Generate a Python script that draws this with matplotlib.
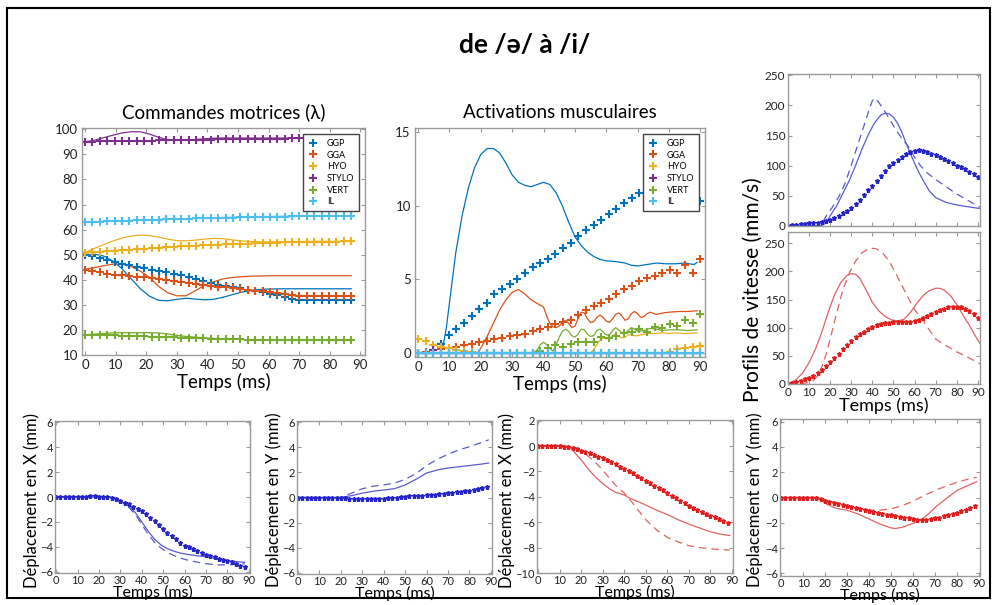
"""
de /ə/ à /i/ : commandes, activations, vitesses et déplacements
"""

import numpy as np
import matplotlib.pyplot as plt
from matplotlib.patches import Rectangle

plt.rcParams['font.family'] = ['Lato', 'DejaVu Sans']

# Muscles et couleurs
muscles = ["GGP", "GGA", "HYO", "STYLO", "VERT", "IL"]
couleurs = ["#0072BD", "#D95319", "#EDB120", "#7E2F8E", "#77AC30", "#4DBEEE"]

# ---------- Commandes motrices (lambda) ----------
t_cmd = np.linspace(0, 87, 37)
cmd_ggp = [50, 49.5, 48.8, 47.8, 46.9, 46.3, 45.8, 45.2, 44.6, 44.0, 43.4, 42.9, 42.3, 41.7, 41.0, 40.2,
           39.4, 38.6, 37.9, 37.4, 37.0, 36.6, 36.1, 35.6, 35.0, 34.4, 33.8, 33.1, 32.5, 32.0, 32.0, 32.0,
           32.0, 32.0, 32.0, 32.0, 32.0]
cmd_gga = [44.0, 43.4, 42.9, 42.4, 42.0, 41.7, 41.4, 41.2, 41.0, 40.6, 40.2, 39.8, 39.4, 39.0, 38.6, 38.2,
           37.9, 37.6, 37.3, 37.0, 36.7, 36.4, 36.0, 35.7, 35.4, 35.1, 34.7, 34.3, 33.9, 33.6, 33.5, 33.5,
           33.5, 33.5, 33.5, 33.5, 33.5]
cmd_hyo = [50.8, 51.0, 51.2, 51.4, 51.6, 51.8, 52.0, 52.2, 52.4, 52.6, 52.8, 53.0, 53.2, 53.3, 53.5, 53.6,
           53.7, 53.9, 54.0, 54.1, 54.2, 54.3, 54.4, 54.5, 54.6, 54.7, 54.8, 54.9, 55.0, 55.0, 55.1, 55.1,
           55.2, 55.2, 55.2, 55.3, 55.3]
cmd_stylo = [95.0, 95.1, 95.2, 95.2, 95.3, 95.3, 95.4, 95.4, 95.5, 95.5, 95.6, 95.6, 95.7, 95.7, 95.8, 95.8,
             95.9, 95.9, 96.0, 96.0, 96.1, 96.1, 96.2, 96.2, 96.2, 96.3, 96.3, 96.3, 96.4, 96.4, 96.4, 96.5,
             96.5, 96.5, 96.5, 96.5, 96.5]
cmd_vert = [18.0, 18.0, 17.9, 17.9, 17.8, 17.7, 17.6, 17.5, 17.4, 17.3, 17.2, 17.1, 17.0, 16.9, 16.8, 16.7,
            16.6, 16.5, 16.4, 16.3, 16.2, 16.2, 16.1, 16.1, 16.0, 16.0, 16.0, 15.9, 15.9, 15.9, 15.9, 15.9,
            15.8, 15.8, 15.8, 15.8, 15.8]
cmd_il = [63.0, 63.1, 63.2, 63.3, 63.4, 63.5, 63.6, 63.7, 63.8, 63.9, 64.0, 64.1, 64.2, 64.3, 64.4, 64.5,
          64.6, 64.6, 64.7, 64.8, 64.8, 64.9, 65.0, 65.0, 65.1, 65.1, 65.2, 65.2, 65.3, 65.3, 65.3, 65.4,
          65.4, 65.4, 65.5, 65.5, 65.5]

# courbes continues (commandes)
t_cmd_l = [0, 3, 6, 9, 12, 15, 18, 21, 24, 27, 30, 33, 36, 39, 42, 45, 48, 51, 54, 57, 60, 65, 70, 75, 80, 87]
cmdl_ggp = [49.8, 50.2, 49.5, 47.5, 44.5, 40.5, 36.5, 33.5, 31.8, 31.6, 32.2, 32.6, 32.3, 32.0, 32.2, 33.0,
            34.0, 35.0, 35.7, 36.1, 36.3, 36.4, 36.4, 36.4, 36.4, 36.4]
cmdl_gga = [44.2, 44.8, 45.6, 46.2, 46.3, 45.3, 43.5, 41.0, 37.4, 34.8, 33.6, 33.6, 35.6, 37.8, 39.2, 40.3,
            40.9, 41.2, 41.4, 41.5, 41.6, 41.6, 41.6, 41.6, 41.6, 41.6]
cmdl_hyo = [50.8, 52.5, 54.0, 55.4, 56.6, 57.4, 57.8, 57.6, 57.0, 56.2, 55.6, 55.5, 55.8, 56.2, 56.5, 56.4,
            55.9, 55.5, 55.2, 55.1, 55.1, 55.2, 55.2, 55.3, 55.3, 55.3]
cmdl_stylo = [95.0, 95.6, 96.6, 97.6, 98.5, 99.0, 99.0, 98.1, 96.8, 95.8, 95.6, 95.7, 95.9, 96.2, 96.4, 96.5,
              96.5, 96.5, 96.5, 96.5, 96.5, 96.5, 96.5, 96.5, 96.5, 96.5]
cmdl_vert = [18.0, 18.3, 18.6, 18.8, 18.9, 18.9, 18.9, 18.9, 18.8, 18.4, 17.8, 17.4, 17.1, 16.8, 16.6, 16.4,
             16.3, 16.2, 16.1, 16.1, 16.0, 16.0, 15.9, 15.9, 15.8, 15.8]
cmdl_il = [63.0, 63.1, 63.3, 63.4, 63.5, 63.7, 63.8, 63.9, 64.0, 64.1, 64.2, 64.3, 64.5, 64.6, 64.7, 64.8,
           64.9, 65.0, 65.0, 65.1, 65.2, 65.3, 65.4, 65.4, 65.5, 65.5]

# ---------- Activations musculaires ----------
t_act = np.linspace(0, 90, 38)
act_ggp = [0, 0, 0, 0.6, 1.2, 1.6, 2.0, 2.5, 3.0, 3.4, 4.0, 4.3, 4.7, 5.0, 5.4, 5.8, 6.1, 6.4, 6.75, 7.1,
           7.5, 7.95, 8.35, 8.7, 9.05, 9.45, 9.8, 10.2, 10.55, 10.85, 11.1, 11.3, 11.4, 11.3, 11.1, 10.9,
           10.6, 10.3]
act_gga = [0, 0.05, 0.15, 0.25, 0.3, 0.4, 0.5, 0.6, 0.7, 0.8, 0.9, 1.0, 1.1, 1.2, 1.3, 1.45, 1.6, 1.75,
           1.95, 2.1, 2.2, 2.55, 2.9, 3.15, 3.4, 3.65, 4.0, 4.3, 4.55, 4.9, 5.05, 5.25, 5.4, 5.6, 5.45, 5.95,
           5.45, 6.35]
act_hyo = [0.95, 0.8, 0.55, 0.4, 0.3, 0.2, 0.1, 0.05, 0, 0, 0, 0, 0, 0, 0, 0, 0, 0, 0, 0, 0, 0, 0, 0, 0,
           0, 0, 0, 0, 0, 0, 0, 0, 0.05, 0.25, 0.3, 0.35, 0.45]
act_stylo = [0, 0, 0.15, 0, 0, 0, 0, 0, 0, 0, 0, 0, 0, 0, 0, 0, 0, 0, 0, 0, 0, 0, 0, 0, 0, 0, 0, 0, 0, 0,
             0, 0, 0, 0, 0, 0, 0, 0]
act_vert = [0, 0, 0, 0, 0, 0, 0, 0, 0, 0, 0, 0, 0, 0, 0, 0, 0.1, 0.3, 0.5, 0.35, 0.6, 0.7, 0.7, 0.75,
            1.05, 1.0, 1.1, 1.35, 1.4, 1.6, 1.4, 1.75, 1.65, 1.95, 1.8, 2.2, 2.0, 2.6]
act_il = [0] * 38

# courbes continues (activations)
tl_ggp = [0, 7, 8, 9, 10, 12, 14, 16, 18, 20, 22, 24, 26, 28, 30, 32, 34, 36, 38, 40, 42, 44, 46, 48, 50,
          52, 54, 56, 58, 60, 63, 66, 68, 70, 73, 76, 79, 82, 85, 88, 89]
actl_ggp = [0, 0, 0.5, 1.7, 3.4, 6.8, 9.3, 11.2, 12.6, 13.5, 13.9, 13.9, 13.6, 12.9, 12.1, 11.6, 11.4, 11.3,
            11.45, 11.6, 11.45, 10.9, 10.0, 8.9, 7.9, 7.3, 6.85, 6.55, 6.35, 6.25, 6.2, 6.1, 5.95, 5.9, 6.0,
            6.1, 6.05, 6.05, 6.1, 6.0, 6.15]
tl_gga = [0, 19, 20, 22, 24, 26, 28, 30, 32, 34, 36, 38, 40, 41, 42, 43, 44, 45, 46, 47, 48, 49, 50, 51,
          52, 53, 54, 55, 56, 57, 58, 59, 60, 61, 62, 63, 64, 65, 66, 67, 68, 69, 70, 71, 72, 73, 74, 76, 78,
          80, 83, 86, 89]
actl_gga = [0, 0, 0.3, 1.1, 2.0, 2.9, 3.6, 4.1, 4.3, 4.0, 3.6, 3.35, 3.1, 2.5, 2.0, 1.75, 1.7, 1.8, 2.05,
            2.2, 2.0, 1.7, 1.8, 2.3, 2.75, 2.7, 2.3, 2.05, 2.1, 2.4, 2.55, 2.4, 2.15, 2.05, 2.3, 2.6, 2.7,
            2.5, 2.2, 2.3, 2.65, 2.8, 2.65, 2.4, 2.45, 2.65, 2.75, 2.6, 2.7, 2.75, 2.8, 2.8, 2.85]
tl_hyo = [0, 55, 56, 57, 58, 59, 60, 61, 62, 63, 64, 65, 66, 67, 68, 69, 70, 72, 74, 76, 78, 80, 82, 85, 89]
actl_hyo = [0, 0, 0.2, 0.55, 0.85, 1.0, 0.95, 0.95, 1.15, 1.25, 1.1, 1.0, 1.05, 1.2, 1.25, 1.15, 1.15,
            1.25, 1.3, 1.3, 1.35, 1.3, 1.35, 1.3, 1.35]
tl_vert = [0, 37, 38, 39, 40, 41, 42, 43, 44, 45, 46, 47, 48, 49, 50, 51, 52, 53, 54, 55, 56, 57, 58, 59,
           60, 61, 62, 63, 64, 65, 66, 67, 68, 69, 70, 72, 74, 76, 78, 80, 83, 86, 89]
actl_vert = [0, 0, 0.2, 0.55, 0.7, 0.55, 0.3, 0.1, 0.5, 1.05, 1.45, 1.6, 1.45, 1.15, 1.05, 1.25, 1.6,
             1.55, 1.25, 1.1, 1.15, 1.5, 1.6, 1.4, 1.2, 1.2, 1.5, 1.7, 1.55, 1.35, 1.3, 1.5, 1.7, 1.6, 1.45,
             1.5, 1.65, 1.6, 1.5, 1.55, 1.55, 1.5, 1.55]
tl_flat = [0, 89]
actl_stylo = [0, 0]
actl_il = [0, 0]

# ---------- Profils de vitesse ----------
t_vit = np.arange(0, 91, 2)
vit_bleu_pts = [0.5, 1.2, 2.0, 3.0, 3.8, 4.5, 5.2, 5.8, 6.6, 7.6, 10, 13, 16, 21, 25, 30, 36, 43, 52, 60,
                67, 74, 83, 91, 99, 105, 110, 115, 119, 123, 125, 126, 125, 123, 120, 117, 114, 110.5, 107,
                104, 100, 97, 94, 90, 86, 82]
tb_sol = [0, 16, 18, 20, 23, 26, 29, 32, 35, 38, 41, 44, 46, 48, 50, 52, 54, 56, 58, 60, 62, 64, 67, 70, 75,
          80, 85, 91]
vit_bleu_sol = [0.5, 0.5, 5, 17, 33, 54, 75, 100, 127, 151, 171, 184, 187, 186, 180, 170, 155, 137, 120, 104,
                89, 76, 58, 47, 39, 35, 32, 29]
tb_tir = [0, 15, 16, 18, 21, 24, 27, 30, 33, 36, 38, 40, 41, 43, 45, 48, 51, 54, 57, 60, 63, 66, 70, 75, 80,
          85, 91]
vit_bleu_tir = [0.5, 0.5, 3, 16, 31, 48, 70, 101, 134, 166, 188, 208, 212, 205, 195, 178, 160, 145, 132, 114,
                99, 88, 77, 65, 53, 43, 31]

vit_rouge_pts = [0, 2, 4, 6, 8, 11, 14, 19, 25, 32, 39, 47, 54, 62, 69, 76, 83, 88, 93, 97, 101, 104, 106,
                 108, 109, 110, 110, 110, 110, 111, 112, 114, 117, 120, 124, 128, 131, 134, 136, 137, 137,
                 136, 133, 129, 124, 118]
tr_sol = [0, 4, 7, 10, 13, 16, 19, 22, 25, 28, 30, 32, 34, 37, 40, 43, 46, 49, 52, 55, 58, 61, 64, 67, 70,
          72, 74, 77, 80, 83, 86, 89, 91]
vit_rouge_sol = [0, 8, 20, 38, 62, 92, 127, 158, 180, 193, 196, 195, 188, 167, 145, 130, 120, 114, 112, 115,
                 127, 143, 157, 166, 170, 170, 167, 157, 141, 122, 104, 84, 72]
tr_tir = [0, 7, 10, 12, 14, 16, 18, 20, 23, 26, 29, 32, 35, 38, 40, 42, 45, 48, 51, 54, 57, 60, 64, 67, 70,
          75, 80, 85, 91]
vit_rouge_tir = [0, 1, 3, 6, 14, 30, 52, 80, 125, 167, 197, 218, 233, 240, 241, 240, 232, 218, 197, 175, 153,
                 132, 113, 96, 80, 68, 57, 48, 36]

# ---------- Déplacements ----------
t_dep = np.arange(0, 90, 2)
dx_bleu_pts = [0, 0, 0, 0, 0, 0, 0, 0.03, 0.05, 0.05, 0.03, 0, 0, -0.05, -0.15, -0.3, -0.45, -0.6, -0.8,
               -0.95, -1.15, -1.4, -1.65, -1.95, -2.25, -2.55, -2.85, -3.15, -3.4, -3.7, -3.9, -4.05, -4.2,
               -4.35, -4.5, -4.65, -4.75, -4.85, -4.95, -5.05, -5.15, -5.25, -5.35, -5.5, -5.65]
t_dep_l = [0, 25, 28, 31, 34, 37, 40, 43, 46, 49, 52, 55, 58, 61, 65, 70, 75, 80, 85, 88]
dx_bleu_sol = [0, 0, -0.15, -0.4, -0.75, -1.25, -2.0, -2.75, -3.4, -3.85, -4.15, -4.35, -4.5, -4.6, -4.7,
               -4.8, -4.95, -5.1, -5.2, -5.25]
dx_bleu_tir = [0, 0, -0.15, -0.45, -0.85, -1.4, -2.2, -3.0, -3.65, -4.1, -4.45, -4.7, -4.9, -5.05, -5.2,
               -5.35, -5.45, -5.45, -5.4, -5.35]

dy_bleu_pts = [0, 0, 0, 0, 0, 0, 0, 0, 0, 0, -0.05, -0.05, -0.1, -0.15, -0.15, -0.15, -0.15, -0.12, -0.1,
               -0.1, -0.08, -0.05, -0.03, 0, 0.02, 0.05, 0.08, 0.1, 0.12, 0.15, 0.18, 0.2, 0.22, 0.25, 0.28,
               0.32, 0.36, 0.4, 0.45, 0.5, 0.55, 0.62, 0.7, 0.78, 0.85]
t_dy_l = [0, 20, 25, 30, 35, 40, 45, 50, 55, 60, 65, 70, 75, 80, 85, 89]
dy_bleu_sol = [0, 0, 0.15, 0.35, 0.5, 0.6, 0.7, 1.0, 1.45, 1.95, 2.2, 2.35, 2.45, 2.55, 2.65, 2.75]
dy_bleu_tir = [0, 0, 0.35, 0.7, 0.9, 1.0, 1.15, 1.45, 1.9, 2.55, 3.05, 3.45, 3.8, 4.05, 4.35, 4.6]

dx_rouge_pts = [0, 0, 0, 0, 0, 0, -0.05, -0.1, -0.18, -0.27, -0.36, -0.46, -0.57, -0.7, -0.83, -0.97,
                -1.12, -1.28, -1.45, -1.62, -1.8, -1.98, -2.15, -2.33, -2.52, -2.72, -2.92, -3.12, -3.3, -3.5,
                -3.7, -3.9, -4.1, -4.3, -4.5, -4.7, -4.85, -5.0, -5.17, -5.33, -5.5, -5.6, -5.75, -5.9, -6.1]
t_dxr_l = [0, 12, 15, 18, 21, 24, 27, 30, 33, 36, 40, 43, 46, 50, 55, 60, 65, 70, 75, 80, 85, 89]
dx_rouge_sol = [0, 0, -0.15, -0.7, -1.3, -1.95, -2.5, -2.95, -3.35, -3.65, -3.85, -4.15, -4.35, -4.65, -5.05,
                -5.4, -5.8, -6.15, -6.45, -6.75, -6.95, -7.05]
dx_rouge_tir = [0, 0, -0.05, -0.2, -0.5, -0.9, -1.35, -1.9, -2.5, -3.1, -3.7, -4.3, -4.95, -5.8, -6.6,
                -7.2, -7.55, -7.85, -8.0, -8.1, -8.15, -8.2]

dy_rouge_pts = [0, 0, 0, 0, 0, 0, 0, 0, -0.05, -0.15, -0.25, -0.35, -0.42, -0.5, -0.58, -0.65, -0.72, -0.8,
                -0.88, -0.96, -1.04, -1.12, -1.2, -1.28, -1.35, -1.42, -1.5, -1.55, -1.6, -1.65, -1.7, -1.75,
                -1.75, -1.75, -1.7, -1.65, -1.58, -1.5, -1.42, -1.33, -1.22, -1.1, -0.95, -0.8, -0.65]
t_dyr_sol = [0, 15, 18, 21, 25, 30, 35, 40, 45, 50, 52, 55, 60, 64, 67, 70, 75, 80, 85, 89]
dy_rouge_sol = [0, 0, -0.2, -0.55, -0.85, -1.0, -1.3, -1.7, -2.1, -2.4, -2.45, -2.35, -2.05, -1.75, -1.3,
                -0.8, -0.1, 0.55, 0.95, 1.25]
t_dyr_tir = [0, 15, 20, 25, 30, 35, 40, 45, 50, 55, 60, 65, 70, 75, 80, 85, 89]
dy_rouge_tir = [0, 0, -0.15, -0.45, -0.7, -0.9, -1.0, -1.0, -0.9, -0.65, -0.3, 0.15, 0.55, 0.9, 1.2, 1.45,
                1.6]

# ---------- Mise en page ----------
W, H = 995, 605
fig = plt.figure(figsize=(W / 100, H / 100), dpi=100)


def boite(g, h, d, b):
    return [g / W, 1 - b / H, (d - g) / W, (b - h) / H]


def style(ax, xlim, ylim, xt, yt, fs=9, pad=3):
    ax.set_xlim(xlim)
    ax.set_ylim(ylim)
    ax.set_xticks(xt)
    ax.set_yticks(yt)
    for s in ax.spines.values():
        s.set_color('#9a9a9a')
        s.set_linewidth(1)
    ax.tick_params(direction='in', length=3, width=0.8, color='#9a9a9a', top=True, right=True,
                   labelsize=fs, labelcolor='#222222', pad=pad)


bleu_pt, bleu_l = '#2424c8', '#5a5ad2'
rouge_pt, rouge_l = '#e01e1e', '#e06262'
leg_opts = dict(loc='upper right', fontsize=6.5, fancybox=False, edgecolor='#444444', framealpha=1,
                handlelength=1.2, handletextpad=0.9, labelspacing=0.3, borderpad=0.5, borderaxespad=0.7)

# Commandes motrices
ax = fig.add_axes(boite(82, 128, 365, 355))
series_l = [cmdl_ggp, cmdl_gga, cmdl_hyo, cmdl_stylo, cmdl_vert, cmdl_il]
series_p = [cmd_ggp, cmd_gga, cmd_hyo, cmd_stylo, cmd_vert, cmd_il]
for v, c in zip(series_l, couleurs):
    ax.plot(t_cmd_l, v, color=c, lw=0.9)
for v, c, m in zip(series_p, couleurs, muscles):
    ax.plot(t_cmd, v, ls='none', marker='+', ms=5.5, mew=1.5, color=c, label=m)
style(ax, (-1, 91.5), (10, 100.5), range(0, 91, 10), range(10, 101, 10), 9.5)
ax.set_title("Commandes motrices (λ)", fontsize=13.5, pad=7)
ax.set_xlabel("Temps (ms)", fontsize=13.5, labelpad=1)
ax.legend(**leg_opts)

# Activations musculaires
ax = fig.add_axes(boite(415, 128, 705, 357))
t_lines = [tl_ggp, tl_gga, tl_hyo, tl_flat, tl_vert, tl_flat]
series_l = [actl_ggp, actl_gga, actl_hyo, actl_stylo, actl_vert, actl_il]
series_p = [act_ggp, act_gga, act_hyo, act_stylo, act_vert, act_il]
for tt, v, c in zip(t_lines, series_l, couleurs):
    ax.plot(tt, v, color=c, lw=0.9)
for v, c, m in zip(series_p, couleurs, muscles):
    ax.plot(t_act, v, ls='none', marker='+', ms=5.5, mew=1.5, color=c, label=m)
style(ax, (-1, 91.5), (-0.3, 15.3), range(0, 91, 10), [0, 5, 10, 15], 9.5)
ax.set_title("Activations musculaires", fontsize=13.5, pad=7)
ax.set_xlabel("Temps (ms)", fontsize=13.5, labelpad=1)
ax.legend(**leg_opts)

# Profils de vitesse
ax = fig.add_axes(boite(788, 74, 980, 226))
ax.plot(tb_tir, vit_bleu_tir, color=bleu_l, lw=0.9, ls=(0, (6, 4)))
ax.plot(tb_sol, vit_bleu_sol, color=bleu_l, lw=0.9)
ax.plot(t_vit, vit_bleu_pts, ls='none', marker='*', ms=3.6, color=bleu_pt)
style(ax, (0, 91), (0, 252), range(0, 91, 10), range(0, 251, 50), 8.5, 2)
ax.set_xticklabels([])

ax = fig.add_axes(boite(788, 232, 980, 384))
ax.plot(tr_tir, vit_rouge_tir, color=rouge_l, lw=0.9, ls=(0, (6, 4)))
ax.plot(tr_sol, vit_rouge_sol, color=rouge_l, lw=0.9)
ax.plot(t_vit, vit_rouge_pts, ls='none', marker='*', ms=3.6, color=rouge_pt)
style(ax, (0, 91), (0, 270), range(0, 91, 10), range(0, 251, 50), 8.5, 2)
ax.set_xlabel("Temps (ms)", fontsize=13, labelpad=0)
fig.text(753 / W, 1 - 290 / H, "Profils de vitesse (mm/s)", rotation=90, ha='center', va='center',
         fontsize=15)

# Déplacements
panneaux = [
    (boite(55, 421, 250, 573), t_dep_l, dx_bleu_sol, t_dep_l, dx_bleu_tir, dx_bleu_pts, bleu_l, bleu_pt,
     (-6.1, 6.1), range(-6, 7, 2), "Déplacement en X (mm)", 32),
    (boite(297, 421, 492, 574), t_dy_l, dy_bleu_sol, t_dy_l, dy_bleu_tir, dy_bleu_pts, bleu_l, bleu_pt,
     (-6.1, 6.1), range(-6, 7, 2), "Déplacement en Y (mm)", 274),
    (boite(537, 420, 733, 573), t_dxr_l, dx_rouge_sol, t_dxr_l, dx_rouge_tir, dx_rouge_pts, rouge_l,
     rouge_pt, (-10, 2.05), range(-10, 3, 2), "Déplacement en X (mm)", 507),
    (boite(780, 419, 980, 576), t_dyr_sol, dy_rouge_sol, t_dyr_tir, dy_rouge_tir, dy_rouge_pts, rouge_l,
     rouge_pt, (-6.2, 6.2), range(-6, 7, 2), "Déplacement en Y (mm)", 755),
]
for pos, ts, vs, tt, vt, vp, cl, cp, yl, yt, lab, xlab in panneaux:
    ax = fig.add_axes(pos)
    ax.plot(tt, vt, color=cl, lw=0.9, ls=(0, (6, 4)))
    ax.plot(ts, vs, color=cl, lw=0.9)
    ax.plot(t_dep, vp, ls='none', marker='*', ms=3.6, color=cp)
    style(ax, (-0.5, 90.5), yl, range(0, 91, 10), yt, 8, 1.5)
    ax.set_xlabel("Temps (ms)", fontsize=11.5, labelpad=-1)
    fig.text(xlab / W, 1 - 500 / H, lab, rotation=90, ha='center', va='center', fontsize=12)

# Titre et cadre
fig.text(525 / W, 1 - 45 / H, "de /ə/ à /i/", ha='center', va='center', fontsize=19, fontweight='bold')
fig.patches.append(Rectangle((7 / W, 1 - 598 / H), 983 / W, 590 / H, transform=fig.transFigure,
                             fill=False, ec='black', lw=1.5))

plt.savefig("out.png", dpi=100)
